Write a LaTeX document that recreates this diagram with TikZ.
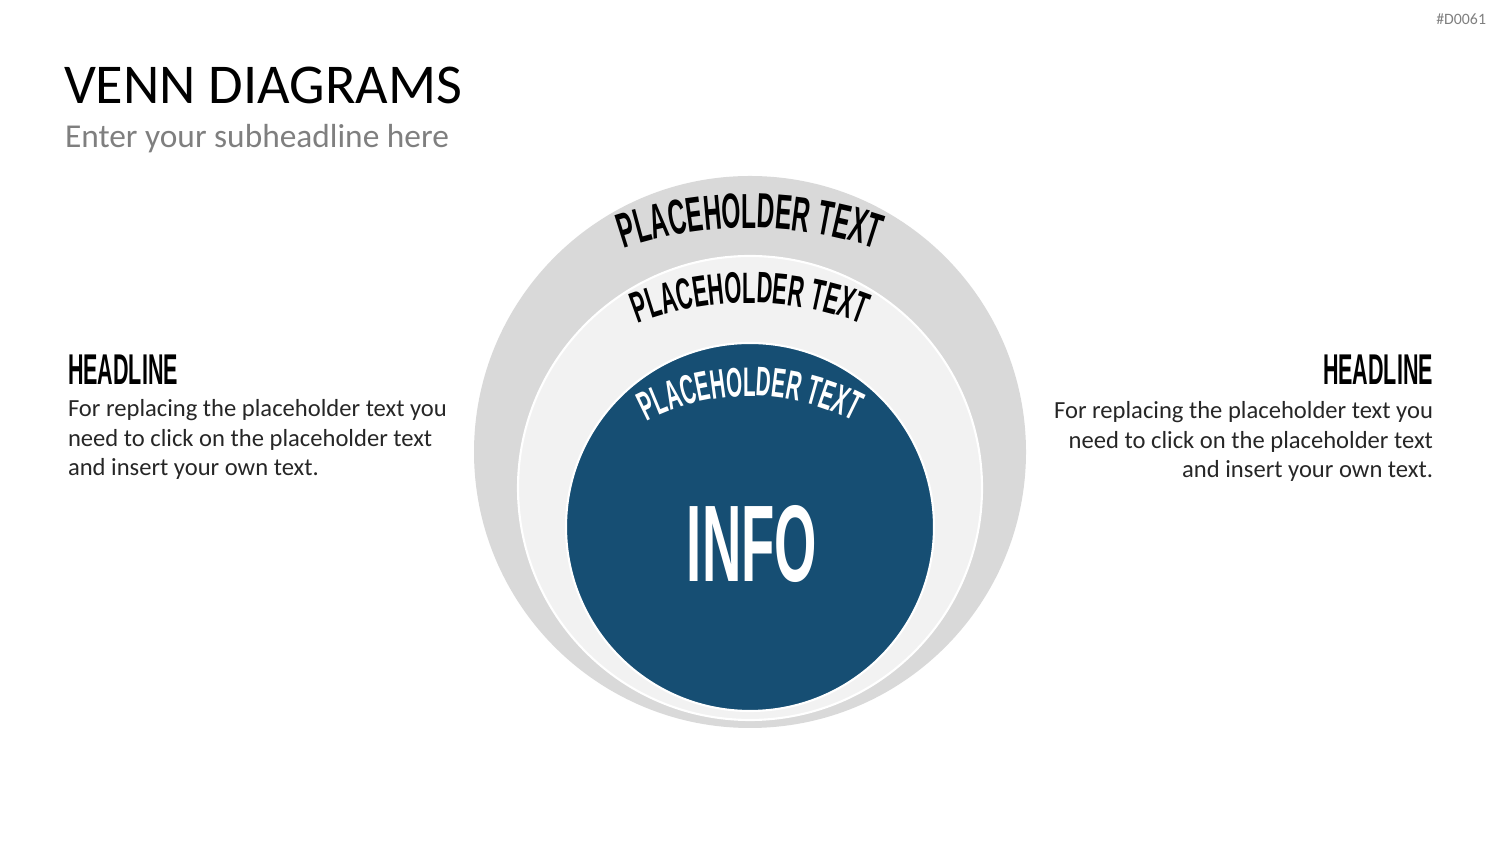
\documentclass[tikz,border=0pt]{standalone}
\usepackage{fontspec}
\setmainfont{Carlito}
\newfontfamily\bebas[FakeStretch=0.5]{Liberation Sans Bold}
\usetikzlibrary{decorations.text}
\definecolor{ringgrey}{HTML}{D9D9D9}
\definecolor{ringlight}{HTML}{F2F2F2}
\definecolor{infoblue}{HTML}{164E73}
\definecolor{subgrey}{HTML}{7F7F7F}
\definecolor{bodytext}{HTML}{262626}
\newcommand\arcfontA{\bebas\fontsize{28}{32}\selectfont}
\newcommand\arcfontB{\bebas\fontsize{25}{29}\selectfont}
\newcommand\arcfontC{\bebas\fontsize{23.5}{27}\selectfont}

\begin{document}
\begin{tikzpicture}[x=0.02cm,y=0.02cm,
  every node/.style={inner sep=0pt,outer sep=0pt},
  ring/.style={draw=white,line width=1.2pt},
  headtxt/.style={font=\bebas\fontsize{24.5}{28}\selectfont},
  bodytxt/.style={font=\fontsize{14}{17}\selectfont,text=bodytext}]
\useasboundingbox (0,0) rectangle (1500,844);
% rings
\fill[ringgrey] (750,392) circle (276);
\draw[ring,fill=ringlight] (750,356) circle (232);
\draw[ring,fill=infoblue] (750,317) circle (184);
% curved labels
\path[decorate,decoration={text along path,text align=center,
  text={|\arcfontA|PLACEHOLDER TEXT}}]
  (750,222) ++(110:394) arc[start angle=110,end angle=70,radius=394];
\path[decorate,decoration={text along path,text align=center,
  text={|\arcfontB|PLACEHOLDER TEXT}}]
  (750,232) ++(115:309) arc[start angle=115,end angle=65,radius=309];
\path[decorate,decoration={text along path,text align=center,text color=white,
  text={|\arcfontC|PLACEHOLDER TEXT}}]
  (750,224) ++(122:224) arc[start angle=122,end angle=58,radius=224];
\node[anchor=base,font=\bebas\fontsize{62}{66}\selectfont,text=white] (info) at (752,262) {INFO};
% title
\node[anchor=base west,font=\fontsize{32}{38}\selectfont] (title) at (64,740) {VENN DIAGRAMS};
\node[anchor=base west,font=\fontsize{19}{23}\selectfont,text=subgrey] (subtitle) at (65,696) {Enter your subheadline here};
\node[anchor=base east,font=\fontsize{9}{11}\selectfont,text=subgrey] (tag) at (1486,819) {\#D0061};
% side texts
\node[headtxt,anchor=base west] (headL) at (68,459) {HEADLINE};
\node[bodytxt,anchor=base west,align=left] (bodyL) at (68,368)
  {For replacing the placeholder text you\\need to click on the placeholder text\\and insert your own text.};
\node[headtxt,anchor=base east] (headR) at (1433,459) {HEADLINE};
\node[bodytxt,anchor=base east,align=right] (bodyR) at (1433,366)
  {For replacing the placeholder text you\\need to click on the placeholder text\\and insert your own text.};
\end{tikzpicture}
\end{document}
